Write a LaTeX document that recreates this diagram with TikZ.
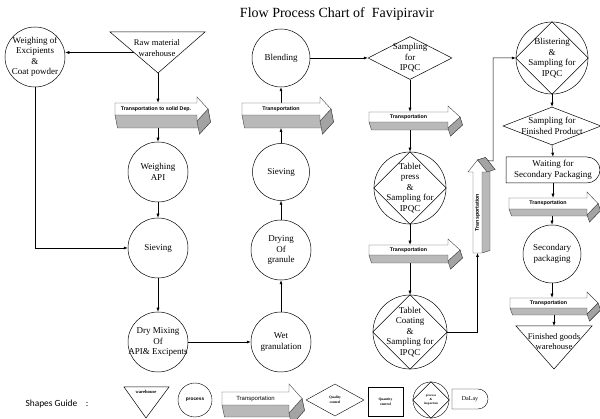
\documentclass[tikz,border=0pt]{standalone}
\usepackage{fontspec}
\setmainfont{Liberation Serif}
\newfontfamily\arialf{Liberation Sans}
\newfontfamily\calf{Carlito}
\usetikzlibrary{shapes.geometric,shapes.misc,arrows.meta,calc}
\pgfdeclarelayer{background}
\pgfsetlayers{background,main}
\def\tArrEx{2.5}
\newcommand{\TArrow}[9]{%
  \pgfmathsetmacro\tArrYa{#3+#6}%
  \pgfmathsetmacro\tArrYm{#3+#6/2}%
  \pgfmathsetmacro\tArrYh{#3-#7}%
  \pgfmathsetmacro\tArrYl{#3+#6+#7}%
  \pgfmathsetmacro\tArrW{#4-#2}%
  \pgfmathsetmacro\tArrXc{(#2+#4)/2}%
  \fill[tshadow] (#2,\tArrYa) -- (#4,\tArrYa) -- (#4,\tArrYl) -- (#5,\tArrYm) -- (#5+\tArrEx,\tArrYm+#8) -- (#4+\tArrEx,\tArrYl+#8) -- (#4+\tArrEx,\tArrYa+#8) -- (#2+\tArrEx,\tArrYa+#8) -- cycle;
  \draw[tedge] (#2,\tArrYa) -- (#2+\tArrEx,\tArrYa+#8) -- (#4+\tArrEx,\tArrYa+#8) -- (#4+\tArrEx,\tArrYl+#8) -- (#5+\tArrEx,\tArrYm+#8) -- (#5,\tArrYm);
  \filldraw[tside] (#4,\tArrYl) -- (#5,\tArrYm) -- (#5+\tArrEx,\tArrYm+#8) -- (#4+\tArrEx,\tArrYl+#8) -- cycle;
  \filldraw[tface] (#2,#3) -- (#4,#3) -- (#4,\tArrYh) -- (#5,\tArrYm) -- (#4,\tArrYl) -- (#4,\tArrYa) -- (#2,\tArrYa) -- cycle;
  \node[ttext, minimum width=\tArrW pt, minimum height=#6 pt, inner sep=0] (#1) at (\tArrXc,\tArrYm) {#9};
  \coordinate (#1b) at (\tArrXc,\tArrYa+#8);
}
\begin{document}
\begin{tikzpicture}[x=1pt,y=-1pt,line width=0.5pt,
  txt/.style={align=center,inner sep=0,font=\fontsize{9}{10.5}\selectfont},
  proc/.style={circle,draw,inner sep=0},
  qc/.style={diamond,draw,inner sep=0},
  delaybox/.style={rounded rectangle,rounded rectangle left arc=none,draw,inner sep=0},
  tshadow/.style={fill=gray!55},
  tedge/.style={draw=black!75,line width=0.4pt},
  tside/.style={fill=gray!72,draw=black!75,line width=0.4pt},
  tface/.style={fill=white,draw=black!75,line width=0.4pt},
  ttext/.style={font=\arialf\bfseries\fontsize{5.3}{6}\selectfont},
  conn/.style={-{Latex[length=4pt,width=3pt]},line width=0.5pt},
  shp/.style={draw,line width=0.5pt}]
\useasboundingbox (0,0) rectangle (600,419);

% title
\node[font=\fontsize{14}{16}\selectfont] (title) at (337,14) {Flow Process Chart of\ \ Favipiravir};

% column 1 and 2
\node[proc,minimum size=60pt,label={[txt]center:{Weighing of\\Excipients\\\&\\Coat powder}}] (wexc) at (35,57) {};
\coordinate (rawTL) at (110,32);
\coordinate (rawTR) at (205,32);
\coordinate (rawtip) at (158,73);
\draw[shp] (rawTL) -- (rawTR) -- (rawtip) -- cycle;
\node[txt,font=\fontsize{8.6}{11}\selectfont] (raw) at (157,48) {Raw material\\warehouse};
\coordinate (rawL) at ($(rawTL)!0.5!(rawtip)$);
\TArrow{t1}{115}{103}{197}{208}{12}{6}{13}{Transportation to solid Dep.}
\node[proc,minimum size=60pt,label={[txt]center:{Weighing\\API}}] (wapi) at (158,172) {};
\node[proc,minimum size=60pt,label={[txt]center:{Sieving}}] (sieve1) at (158,248) {};
\node[proc,minimum size=60pt,label={[txt]center:{Dry Mixing\\Of\\API\& Excipents}}] (dmix) at (158,342) {};

% column 3
\node[proc,minimum size=60pt,label={[txt]center:{Wet\\granulation}}] (wet) at (281,342) {};
\node[proc,minimum size=60pt,label={[txt]center:{Drying\\Of\\granule}}] (dry) at (281,250) {};
\node[proc,minimum size=57pt,label={[txt]center:{Sieving}}] (sieve2) at (281,172) {};
\TArrow{t3}{242}{103}{320}{331}{12}{6}{13}{Transportation}
\node[proc,minimum size=58pt,label={[txt]center:{Blending}}] (blend) at (281,58) {};

% column 4
\node[qc,minimum width=84pt,minimum height=43pt,label={[txt]center:{Sampling\\for\\IPQC}}] (samp) at (410,58) {};
\TArrow{t4a}{369}{112}{448}{460}{10}{6}{8}{Transportation}
\node[proc,minimum size=72pt] (tpress) at (410,188) {};
\draw[shp] (tpress.north) -- (tpress.east) -- (tpress.south) -- (tpress.west) -- cycle;
\node[txt] (tpresst) at (410,188) {Tablet\\press\\\&\\Sampling for\\IPQC};
\TArrow{t4b}{369}{245}{448}{460}{10}{6}{8}{Transportation}
\node[proc,minimum size=74pt] (tcoat) at (410,332) {};
\draw[shp] (tcoat.north) -- (tcoat.east) -- (tcoat.south) -- (tcoat.west) -- cycle;
\node[txt] (tcoatt) at (410,332) {Tablet\\Coating\\\&\\Sampling for\\IPQC};

% vertical transportation
\begin{scope}[shift={(473,253)},rotate=90,transform shape]
  \TArrow{tv}{0}{0}{81}{93}{9}{5}{8}{Transportation}
  \coordinate (tvin) at (0,4.5);
  \coordinate (tvtip) at (93,4.5);
\end{scope}
\coordinate (vcorner) at (493,161);

% column 5
\node[proc,minimum size=72pt] (blister) at (552,58) {};
\draw[shp] (blister.north) -- (blister.east) -- (blister.south) -- (blister.west) -- cycle;
\node[txt] (blistert) at (552,58) {Blistering\\\&\\Sampling for\\IPQC};
\node[qc,minimum width=98pt,minimum height=38pt,label={[txt]center:{Sampling for\\Finished Product}}] (sfp) at (552,126) {};
\node[delaybox,minimum width=94pt,minimum height=26pt,label={[txt]center:{Waiting for\\Secondary Packaging}}] (wait) at (553,170) {};
\TArrow{t5a}{509}{198}{587}{598}{11}{6}{7}{Transportation}
\node[proc,minimum size=58pt,label={[txt]center:{Secondary\\packaging}}] (spack) at (552,254) {};
\TArrow{t5b}{510}{298}{587}{598}{10}{6}{7}{Transportation}
\coordinate (fgwTL) at (516,326);
\coordinate (fgwTR) at (592,326);
\coordinate (fgwtip) at (554,369);
\coordinate (fgwtop) at (554,326);
\draw[shp] (fgwTL) -- (fgwTR) -- (fgwtip) -- cycle;
\node[txt,font=\fontsize{8.6}{10}\selectfont] (fgw) at (554,342) {Finished goods\\warehouse};

% connectors
\begin{pgfonlayer}{background}
\fill[white] (0,0) rectangle (600,419);
\draw[conn] (rawL) -- (rawL -| wexc.east);
\draw[conn] (wexc.south) |- (sieve1.west);
\draw[conn] (rawtip) -- (rawtip |- t1.north);
\draw[conn] (wapi.north |- t1b) -- (wapi.north);
\draw[conn] (wapi.south) -- (sieve1.north);
\draw[conn] (sieve1.south) -- (dmix.north);
\draw[conn] (dmix.east) -- (wet.west);
\draw[conn] (wet.north) -- (dry.south);
\draw[conn] (dry.north) -- (sieve2.south);
\draw[conn] (sieve2.north) -- (sieve2.north |- t3b);
\draw[conn] (blend.south |- t3.north) -- (blend.south);
\draw[conn] (blend.east) -- (samp.west);
\draw[conn] (samp.south) -- (samp.south |- t4a.north);
\draw[conn] (tpress.north |- t4ab) -- (tpress.north);
\draw[conn] (tpress.south) -- (tpress.south |- t4b.north);
\draw[conn] (tcoat.north |- t4bb) -- (tcoat.north);
\draw[conn] (tcoat.east) -| (tvin);
\draw[conn] (tvtip) -- (vcorner) |- (blister.west);
\draw[conn] (blister.south) -- (sfp.north);
\draw[conn] (sfp.south) -- (wait.north);
\draw[conn] (wait.south) -- (wait.south |- t5a.north);
\draw[conn] (spack.north |- t5ab) -- (spack.north);
\draw[conn] (spack.south) -- (spack.south |- t5b.north);
\draw[conn] (fgwtop |- t5bb) -- (fgwtop);
\end{pgfonlayer}

% legend
\node[anchor=west,font=\calf\fontsize{9.4}{11}\selectfont] (guide) at (22,404) {Shapes Guide\ \ \ \ :};
\coordinate (lwTL) at (124,387);
\coordinate (lwTR) at (169,387);
\coordinate (lwtip) at (146,418);
\draw[shp] (lwTL) -- (lwTR) -- (lwtip) -- cycle;
\node[txt,font=\bfseries\fontsize{4.6}{5}\selectfont] (lwh) at (146,392) {warehouse};
\node[proc,minimum size=34pt,label={[txt,font=\arialf\bfseries\fontsize{4.8}{5}\selectfont]center:{process}}] (lproc) at (195,400) {};
\begin{scope}[ttext/.style={font=\arialf\fontsize{6}{7}\selectfont}]
  \TArrow{tl}{222}{392}{289}{302}{13}{8}{12}{Transportation}
\end{scope}
\node[qc,minimum width=58pt,minimum height=32pt,label={[txt,font=\bfseries\fontsize{3.6}{4.6}\selectfont]center:{Quality\\control}}] (lqc) at (335,400) {};
\node[draw,minimum width=35pt,minimum height=29pt,inner sep=0,label={[txt,font=\bfseries\fontsize{3.6}{4.6}\selectfont]center:{Quantity\\control}}] (lqty) at (385.5,401.5) {};
\node[proc,minimum size=36pt] (lpi) at (431,400) {};
\draw[shp] (lpi.north) -- (lpi.east) -- (lpi.south) -- (lpi.west) -- cycle;
\node[txt,font=\bfseries\fontsize{3.2}{4.4}\selectfont] (lpit) at (431,400) {process\\\&\\inspection};
\node[delaybox,minimum width=36pt,minimum height=20pt,label={[txt,font=\fontsize{6}{7}\selectfont]center:{DaLay}}] (ldelay) at (470,399) {};
\end{tikzpicture}
\end{document}
